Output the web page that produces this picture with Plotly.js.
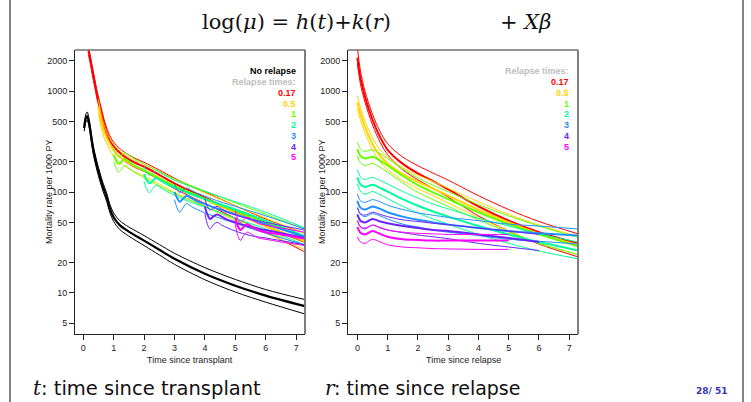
<!DOCTYPE html>
<html><head><meta charset="utf-8">
<script src="https://cdn.plot.ly/plotly-3.0.1.min.js"></script>
<style>html,body{margin:0;padding:0;background:#fff;}#chart{width:751px;height:402px;}</style>
</head><body><div id="chart"></div>
<script>
// ---------- tick labels / categories ----------
const yTickVals = [5, 10, 20, 50, 100, 200, 500, 1000, 2000];
const yTickText = ['5', '10', '20', '50', '100', '200', '500', '1000', '2000'];
const xTickVals = [0, 1, 2, 3, 4, 5, 6, 7];
const relapseLabels = ['0.17', '0.5', '1', '2', '3', '4', '5'];

// ---------- left panel: time since transplant ----------
const noRelT   = [0.03,0.08,0.13,0.2,0.27,0.33,0.45,0.55,0.66,0.77,0.88,1.0,1.2,1.5,2,2.5,3,4,5,6,7.28];
const noRelEst = [430,530,565,470,340,262,182,141,110,89,68,56,47,40.5,33,26.8,21.8,15.5,11.8,9.4,7.4];
const noRelHi  = [465,580,620,515,372,288,200,155,121,98,75,62,52,45,37,30.2,24.7,17.8,13.6,10.8,8.6];
const noRelLo  = [400,485,515,430,310,238,165,128,100,81,62,51,42.5,36.5,29.5,23.8,19.2,13.5,10.2,8.1,6.2];

const left017T   = [0.17,0.22,0.3,0.38,0.46,0.55,0.63,0.71,0.82,0.93,1.1,1.37,1.7,2.0,2.5,3,3.5,4,5,6,7.28];
const left017Est = [2550,2150,1600,1200,900,700,560,450,360,305,262,223,195,178,148,122,103,88,63,46,32];
const left017Hi  = [2800,2350,1750,1310,985,765,612,492,395,335,288,246,216,197,165,137,116,100,73,54,39];
const left017Lo  = [2300,1950,1450,1090,818,636,508,408,326,276,237,201,175,160,132,108,91,77,55,40,25.5];

const left05T   = [0.5,0.56,0.63,0.71,0.82,0.93,1.1,1.37,1.7,2.0,2.5,3,3.5,4,5,6,7.28];
const left05Est = [700,560,450,380,320,280,240,205,180,165,138,115,98,84,62,46,32.5];
const left05Hi  = [820,650,520,435,365,318,273,234,206,189,159,133,114,98,73,55,39];
const left05Lo  = [600,480,390,330,280,245,210,180,158,144,120,99,84,72,52,39,27];

const left1T   = [1.0,1.08,1.16,1.25,1.37,1.5,1.7,2.0,2.5,3,3.5,4,5,6,7.28];
const left1Est = [235,205,190,198,212,200,182,163,136,115,99,86,65,50,35.5];
const left1Hi  = [275,240,222,232,245,232,212,190,159,135,117,102,78,60,43];
const left1Lo  = [200,174,158,166,182,172,156,139,115,97,83,72,54,41,29];

const left2T   = [2.0,2.08,2.17,2.27,2.4,2.55,2.75,3.0,3.5,4,5,6,7.28];
const left2Est = [150,132,122,128,138,130,120,111,96,85,67,52,36.5];
const left2Hi  = [178,157,146,152,163,154,142,131,114,101,80,63,44];
const left2Lo  = [127,108,98,106,117,110,101,93,80,71,55,43,30];

const left3T   = [3.0,3.08,3.17,3.27,3.4,3.55,3.75,4.0,4.5,5,6,7.28];
const left3Est = [100,88,80,85,92,87,81,76,67,60,48,36];
const left3Hi  = [120,106,98,102,110,104,97,91,80,72,58,43];
const left3Lo  = [84,70,63,69,77,72,67,62,55,49,39,30];

const left4T   = [4.0,4.08,4.17,4.27,4.4,4.55,4.75,5.0,5.5,6,7.28];
const left4Est = [72,60,54,57,60,57,53,50,45,42,35];
const left4Hi  = [86,72,66,69,72,68,63,59,54,50,42];
const left4Lo  = [61,48,43,47,50,47,44,41,37,35,30];

const left5T   = [5.0,5.08,5.17,5.27,5.4,5.55,5.75,6.0,6.5,7.28];
const left5Est = [56,46,42,45,48,45,42,40,38,34.5];
const left5Hi  = [65,54,50,53,56,53,49,47,44,40];
const left5Lo  = [48,37,33,37,40,38,35,34,32,29.5];

// ---------- right panel: time since relapse ----------
const rGrid = [0,0.1,0.25,0.5,0.75,1,1.5,2,2.5,3,4,5,6,7.28];

const right017Est = [2150,1350,880,520,350,262,190,153,128,106,72,52,40,31];
const right017Hi  = [2700,1600,1000,590,398,300,222,182,154,131,92,67,51,38.6];
const right017Lo  = [1900,1180,780,462,312,234,166,132,109,89,58,41,30.5,22.8];

const right05Est = [770,600,440,300,228,192,150,126,108,92,67,50,38.5,30];
const right05Hi  = [890,690,505,345,262,221,174,147,127,109,80,60,47,36.5];
const right05Lo  = [670,520,385,262,199,167,130,108,92,78,56,41,31,24];

const right1Est = [265,228,215,224,205,183,144,117,99,85,63,48,38,29];
const right1Hi  = [310,268,253,262,240,214,169,138,117,101,75,58,46,35.5];
const right1Lo  = [228,195,183,192,176,157,123,99,84,72,53,40,31,24];

const right2Est = [140,119,112,118,110,101,85,73,64,57,46,38,32,26.5];
const right2Hi  = [166,141,133,140,130,120,101,87,76,68,55,46,38.5,32];
const right2Lo  = [120,102,95,101,94,86,72,62,54,48,38,31,26,21.8];

const right3Est = [82,70,67,72,68,63,57,53,50,47.5,44,41,39,37];
const right3Hi  = [96,82,79,84,80,74,67,62,59,56,52,48,46,43];
const right3Lo  = [70,60,57,61,58,54,48,45,42,40,37,34,32.5,30.5];

const right4Est = [60,52,50,54,51,49,46,44,42,41,38,35,32];
const right4Hi  = [70,61,59,63,60,57,53,51,49,47.5,44,41,38];
const right4Lo  = [52,45,43,47,44,42,39.5,37.5,36,34.5,31,28.5,26.3];

const right5Est = [45,39.5,38,41,38.5,36,34,33.5,33,33,33,33];
const right5Hi  = [52,45.5,44,47,44.5,42,40,39,38.5,38,38,38];
const right5Lo  = [36,32,31,34,32,30,28.5,28,27.5,27.3,27,27];

// ---------- styles ----------
const relapseColors = ['#FF0000', '#FFD500', '#66FF00', '#00FF99', '#1E90FF', '#6A22FF', '#FF00FF'];
const W = 751, H = 402;
const px = v => v / W, py = v => 1 - v / H;

const leftGroups = [
  [left017T, left017Est, left017Hi, left017Lo],
  [left05T, left05Est, left05Hi, left05Lo],
  [left1T, left1Est, left1Hi, left1Lo],
  [left2T, left2Est, left2Hi, left2Lo],
  [left3T, left3Est, left3Hi, left3Lo],
  [left4T, left4Est, left4Hi, left4Lo],
  [left5T, left5Est, left5Hi, left5Lo]
];
const rightGroups = [
  [right017Est, right017Hi, right017Lo],
  [right05Est, right05Hi, right05Lo],
  [right1Est, right1Hi, right1Lo],
  [right2Est, right2Hi, right2Lo],
  [right3Est, right3Hi, right3Lo],
  [right4Est, right4Hi, right4Lo],
  [right5Est, right5Hi, right5Lo]
];

function ln(x, y, color, width, p) {
  return {type: 'scatter', mode: 'lines', x: x, y: y,
    xaxis: p === 2 ? 'x2' : 'x', yaxis: p === 2 ? 'y2' : 'y',
    line: {color: color, width: width, shape: 'spline', smoothing: 0.9},
    hoverinfo: 'skip', showlegend: false};
}

const traces = [];
traces.push(ln(noRelT, noRelHi, '#000', 1, 1));
traces.push(ln(noRelT, noRelLo, '#000', 1, 1));
traces.push(ln(noRelT, noRelEst, '#000', 2.2, 1));
leftGroups.forEach((g, i) => {
  traces.push(ln(g[0], g[2], relapseColors[i], 1, 1));
  traces.push(ln(g[0], g[3], relapseColors[i], 1, 1));
  traces.push(ln(g[0], g[1], relapseColors[i], 2, 1));
});
rightGroups.forEach((g, i) => {
  const x = rGrid.slice(0, g[0].length);
  traces.push(ln(x, g[1], relapseColors[i], 1, 2));
  traces.push(ln(x, g[2], relapseColors[i], 1, 2));
  traces.push(ln(x, g[0], relapseColors[i], 2, 2));
});

const tickFont = {family: 'Liberation Sans, Arial, sans-serif', size: 9, color: '#222'};
function xax(dom, rng, anchor) {
  return {domain: dom, range: rng, tickvals: xTickVals, ticks: 'outside', ticklen: 5, tickwidth: 1,
    tickcolor: '#222', showline: true, linecolor: '#222', linewidth: 1, mirror: false,
    showgrid: false, zeroline: false, tickfont: tickFont, anchor: anchor, fixedrange: true};
}
function yax(anchor) {
  return {domain: [py(334), py(50)], type: 'log', range: [0.593, 3.407], tickvals: yTickVals,
    ticktext: yTickText, ticks: 'outside', ticklen: 5, tickwidth: 1, tickcolor: '#222',
    showline: true, linecolor: '#222', linewidth: 1, mirror: false, showgrid: false,
    zeroline: false, tickfont: tickFont, anchor: anchor, fixedrange: true};
}

const ann = [];
function txt(x, y, text, font, xanchor, extra) {
  ann.push(Object.assign({xref: 'paper', yref: 'paper', x: px(x), y: py(y), text: text,
    showarrow: false, xanchor: xanchor || 'center', yanchor: 'middle', font: font,
    borderpad: 0}, extra || {}));
}
const serif = 'DejaVu Serif, Liberation Serif, serif';
const sans = 'DejaVu Sans, Liberation Sans, sans-serif';
// title
txt(201, 22, 'log(<i>μ</i>) = <i>h</i>(<i>t</i>)+<i>k</i>(<i>r</i>)', {family: serif, size: 21, color: '#111'}, 'left');
txt(499, 22, '+ <i>Xβ</i>', {family: serif, size: 21, color: '#111'}, 'left');
// bottom text
txt(32, 388, '<i>t</i>', {family: serif, size: 20, color: '#111'}, 'left');
txt(40, 388, ': time since transplant', {family: sans, size: 19.5, color: '#111'}, 'left');
txt(324, 388, '<i>r</i>', {family: serif, size: 20, color: '#111'}, 'left');
txt(333, 388, ': time since relapse', {family: sans, size: 19, color: '#111'}, 'left');
txt(728, 391, '<b>28/ 51</b>', {family: sans, size: 9, color: '#3535B5'}, 'right');
// axis titles
const labFont = {family: 'Liberation Sans, Arial, sans-serif', size: 9, color: '#222'};
txt(49, 192, 'Mortality rate per 1000 PY', labFont, 'center', {textangle: -90});
txt(322, 192, 'Mortality rate per 1000 PY', labFont, 'center', {textangle: -90});
txt(190, 360, 'Time since transplant', labFont);
txt(463, 360, 'Time since relapse', labFont);
// legends
const legB = c => ({family: 'Liberation Sans, Arial, sans-serif', size: 9, color: c});
txt(297, 71, '<b>No relapse</b>', legB('#000'), 'right');
txt(297, 82, '<b>Relapse times:</b>', legB('#BEBEBE'), 'right');
relapseLabels.forEach((l, i) => txt(297, 92.8 + i * 10.75, '<b>' + l + '</b>', legB(relapseColors[i]), 'right'));
txt(570, 71, '<b>Relapse times:</b>', legB('#BEBEBE'), 'right');
relapseLabels.forEach((l, i) => txt(570, 82 + i * 10.8, '<b>' + l + '</b>', legB(relapseColors[i]), 'right'));

const shapes = [];
function seg(x0, y0, x1, y1, color, width) {
  shapes.push({type: 'line', xref: 'paper', yref: 'paper', x0: px(x0), y0: py(y0), x1: px(x1), y1: py(y1),
    line: {color: color, width: width}});
}
seg(75, 50, 305, 50, '#707070', 1.5);
seg(305, 50, 305, 334, '#707070', 1.8);
seg(348, 50, 578, 50, '#707070', 1.5);
seg(578, 50, 578, 334, '#707070', 1.8);
seg(10, 0, 10, 402, '#333', 1.2);
seg(743, 0, 743, 402, '#333', 1.2);

const layout = {
  width: W, height: H, margin: {l: 0, r: 0, t: 0, b: 0},
  paper_bgcolor: '#fff', plot_bgcolor: '#fff', showlegend: false,
  xaxis: xax([px(75), px(305)], [-0.27, 7.29], 'y'),
  yaxis: yax('x'),
  xaxis2: xax([px(348), px(578)], [-0.31, 7.29], 'y2'),
  yaxis2: yax('x2'),
  annotations: ann, shapes: shapes
};
Plotly.newPlot('chart', traces, layout, {staticPlot: true, displayModeBar: false});
</script></body></html>
